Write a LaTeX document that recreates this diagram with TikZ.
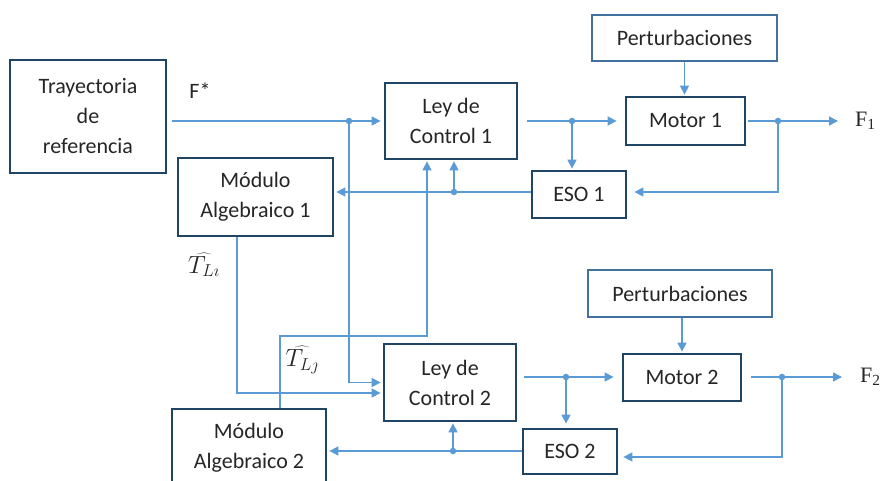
\documentclass[tikz,border=0pt]{standalone}
\usepackage{fontspec}
\setmainfont{Carlito}
\newfontfamily\serifF{Liberation Serif}
\usetikzlibrary{arrows.meta}
\definecolor{boxline}{HTML}{1F4464}
\definecolor{wire}{HTML}{5B9BD5}
\definecolor{pertline}{HTML}{41719C}
\definecolor{ink}{HTML}{262626}
\tikzset{
  x=1pt, y=-1pt,
  blk/.style={draw=boxline, line width=2.8pt, fill=white, text=ink, align=center,
    font=\fontsize{22}{30}\selectfont, inner sep=0pt},
  pert/.style={draw=pertline, line width=1.3pt, fill=white, text=ink, align=center,
    font=\fontsize{22}{30}\selectfont, inner sep=0pt},
  conn/.style={draw=wire, line width=1.5pt},
  arr/.style={conn, -{Triangle[length=9pt,width=9pt]}},
  dot/.style={circle, fill=wire, inner sep=0pt, minimum size=6.5pt},
  lbl/.style={text=ink, inner sep=0pt, font=\fontsize{22}{30}\selectfont}
}
\begin{document}
\begin{tikzpicture}
\useasboundingbox (0,0) rectangle (883,481);
\clip (0,0) rectangle (883,481);
\fill[white] (0,0) rectangle (883,481);

% blocks
\node[blk, minimum width=156pt, minimum height=113pt] (tray) at (88,116.5) {Trayectoria\\de\\referencia};
\node[blk, minimum width=155pt, minimum height=78pt] (ma1) at (255.5,197) {Módulo\\Algebraico 1};
\node[blk, minimum width=132pt, minimum height=76pt] (lc1) at (451,121) {Ley de\\Control 1};
\node[blk, minimum width=119pt, minimum height=48pt] (m1) at (685.5,121) {Motor 1};
\node[blk, minimum width=94pt, minimum height=47pt] (eso1) at (579,194.5) {ESO 1};
\node[pert, minimum width=185pt, minimum height=46pt] (p1) at (684.5,38) {Perturbaciones};

\node[blk, minimum width=132pt, minimum height=77pt] (lc2) at (450,382.5) {Ley de\\Control 2};
\node[blk, minimum width=154pt, minimum height=78pt] (ma2) at (249,448) {Módulo\\Algebraico 2};
\node[blk, minimum width=94pt, minimum height=45pt] (eso2) at (570,451.5) {ESO 2};
\node[blk, minimum width=118pt, minimum height=47pt] (m2) at (682,377.5) {Motor 2};
\node[pert, minimum width=184pt, minimum height=47pt] (p2) at (680,293.5) {Perturbaciones};

% labels
\node[lbl] (fstar) at (200,91) {F*};
\node[lbl, anchor=west, font=\serifF\fontsize{22}{26}\selectfont] (f1) at (855,121) {F\textsubscript{1}};
\node[lbl, anchor=west, font=\serifF\fontsize{22}{26}\selectfont] (f2) at (860,377) {F\textsubscript{2}};
\node[lbl, font=\fontsize{25}{28}\selectfont] (tl1) at (204,265) {$\widehat{T_{L\imath}}$};
\node[lbl, font=\fontsize{25}{28}\selectfont] (tl2) at (302,360) {$\widehat{T_{L\jmath}}$};

% junction and bend points
\coordinate (j1) at (349,121);
\coordinate (j2) at (572,121);
\coordinate (j3) at (778,121);
\coordinate (b3) at (778,192);
\coordinate (j4) at (454,192);
\coordinate (b4) at (427,336);
\coordinate (b5) at (280,336);
\coordinate (j5) at (566,377);
\coordinate (j6) at (782,377);
\coordinate (b6) at (782,457);
\coordinate (j7) at (453,451);

% upper loop
\draw[arr] ([xshift=5pt]tray.east |- j1) -- ([xshift=-3pt]lc1.west);
\draw[arr] (j1) |- ([xshift=-2pt]lc2.west);
\draw[arr] ([xshift=-18.5pt]ma1.south) |- ([xshift=-2pt,yshift=-10.5pt]lc2.west);
\draw[arr] ([xshift=9pt]lc1.east) -- ([xshift=-8pt]m1.west);
\draw[arr] (j2) -- ([yshift=1pt]eso1.north -| j2);
\draw[arr] ([xshift=2pt]m1.east) -- ([xshift=-17pt]f1.west);
\draw[arr] (j3) -- (b3) -- ([xshift=7pt]eso1.east |- b3);
\draw[arr] (eso1.west |- j4) -- ([xshift=2pt]ma1.east |- j4);
\draw[arr] (j4) -- ([yshift=-1pt]lc1.south -| j4);
\draw[arr] (b5 |- ma2.north) -- (b5) -- (b4) -- ([yshift=-1pt]lc1.south -| b4);
\draw[arr] (p1.south) -- ([yshift=1pt]m1.north -| p1.south);

% lower loop
\draw[arr] ([xshift=7pt]lc2.east |- j5) -- ([xshift=-8pt]m2.west |- j5);
\draw[arr] (j5) -- ([yshift=4pt]eso2.north -| j5);
\draw[arr] ([xshift=9pt]m2.east |- j6) -- ([xshift=-18pt]f2.west);
\draw[arr] (j6) -- (b6) -- ([xshift=5pt]eso2.east |- b6);
\draw[arr] (eso2.west |- j7) -- ([xshift=2pt]ma2.east |- j7);
\draw[arr] (j7) -- ([yshift=-1pt]lc2.south -| j7);
\draw[arr] (p2.south -| m2.north) -- ([yshift=1pt]m2.north);

% junction dots
\foreach \j in {j1,j2,j3,j4,j5,j6,j7} \node[dot] at (\j) {};
\end{tikzpicture}
\end{document}
